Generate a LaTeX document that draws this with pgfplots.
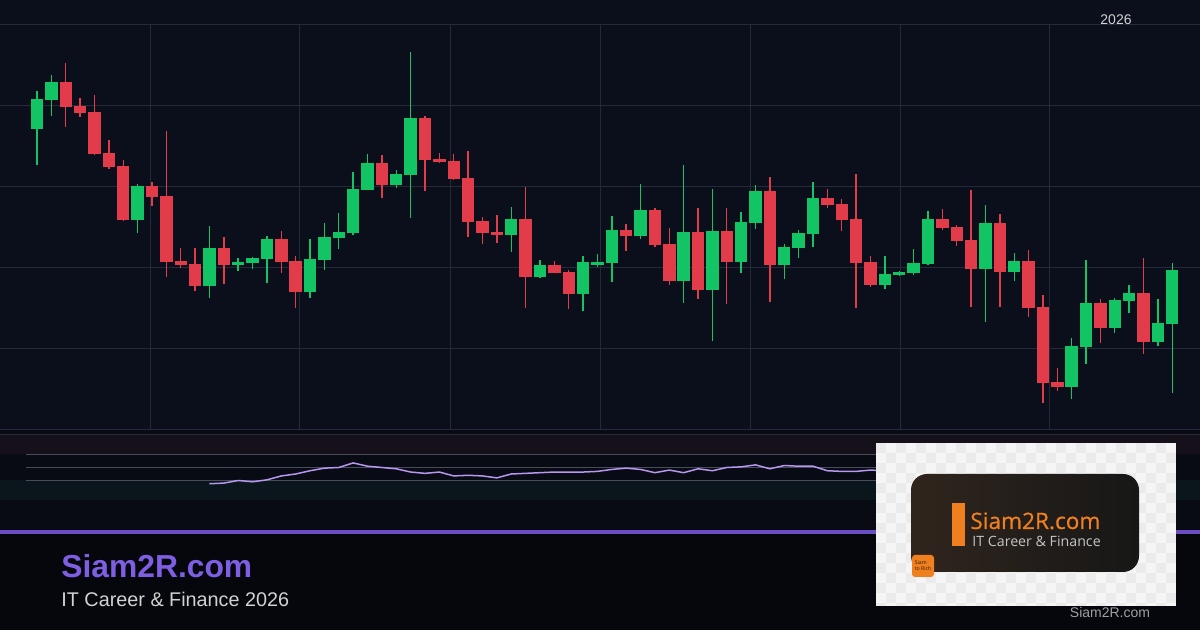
\documentclass[border=0pt]{standalone}
\usepackage{pgfplots}
\pgfplotsset{compat=1.18}
\usepackage{pgfplotstable}
\usepackage{fontspec}
\setmainfont{Liberation Sans}
\newfontfamily\osb{Open Sans}[FakeBold=0.6]
\newfontfamily\osr{Open Sans}
\definecolor{bgtop}{HTML}{0B0F1B}
\definecolor{bgmid}{HTML}{080B14}
\definecolor{bgbot}{HTML}{05070D}
\definecolor{gridc}{HTML}{252A39}
\definecolor{cgreen}{HTML}{12C464}
\definecolor{cred}{HTML}{E23B4A}
\definecolor{rsiline}{HTML}{B696EE}
\definecolor{rsigrid}{HTML}{474C58}
\definecolor{obband}{HTML}{15101A}
\definecolor{osband}{HTML}{0A161C}
\definecolor{purp}{HTML}{6B4EC4}
\definecolor{purptxt}{HTML}{7E5FE4}
\definecolor{subgray}{HTML}{D2D2D2}
\definecolor{orng}{HTML}{F0801F}
\definecolor{logogray}{HTML}{C4C4C4}
\definecolor{checkA}{HTML}{F5F5F5}
\definecolor{checkB}{HTML}{EBEBEB}
\definecolor{brownL}{HTML}{30251D}
\definecolor{darkR}{HTML}{171717}
\definecolor{graytxt}{HTML}{A0A0A0}

\pgfplotstableread{
i o h l c
1 117.20 121.85 112.72 120.83
2 120.74 123.83 118.77 122.96
8 105.93 110.37 104.32 110.12
13 97.78 105.19 96.30 102.47
15 100.37 101.23 99.63 100.74
16 100.62 101.36 99.88 101.23
17 101.11 103.95 98.15 103.58
20 97.04 103.58 96.30 101.11
21 100.99 105.56 99.75 103.83
22 103.70 106.79 102.35 104.44
23 104.32 111.85 104.07 109.75
24 109.63 114.07 109.57 112.96
26 110.25 112.10 109.88 111.60
27 111.48 126.67 106.17 118.52
34 104.07 107.53 101.98 106.05
36 98.89 100.99 98.77 100.37
39 96.79 101.48 94.69 100.74
40 100.37 101.73 100.12 100.74
41 100.62 106.42 98.27 104.69
43 103.95 110.37 103.58 107.16
46 98.40 112.72 95.68 104.44
48 97.28 109.75 90.99 104.57
50 100.74 106.91 99.38 105.68
51 105.56 110.25 104.81 109.51
53 100.37 102.96 98.64 102.59
54 102.47 104.69 101.23 104.32
55 104.20 110.62 102.59 108.64
60 97.90 101.48 97.41 99.26
61 99.14 99.57 99.07 99.51
62 99.38 102.35 99.14 100.62
63 100.49 107.04 100.37 106.05
67 99.88 107.78 93.33 105.56
69 99.51 101.85 98.40 100.86
73 85.31 91.36 83.83 90.37
74 90.25 100.99 88.15 95.68
76 92.59 96.30 91.98 96.05
77 95.93 97.90 94.44 96.91
79 90.86 96.17 90.37 93.21
80 93.09 100.62 84.57 99.75
}\greentab

\pgfplotstableread{
i o h l c
3 122.96 125.31 117.41 119.91
4 120.00 120.99 118.64 119.17
5 119.26 121.36 113.95 114.07
6 114.20 115.80 112.22 112.47
7 112.59 113.33 105.85 105.93
9 110.12 110.62 107.65 108.77
10 108.89 116.91 98.89 100.74
11 100.86 102.47 100.00 100.37
12 100.49 102.47 97.16 97.78
14 102.47 103.83 98.02 100.37
18 103.58 104.57 99.38 100.74
19 100.86 101.48 95.06 97.04
25 112.96 113.95 108.64 110.25
28 118.52 118.77 109.51 113.33
29 113.46 114.20 112.96 113.09
30 113.21 114.07 110.86 110.99
31 111.11 114.44 103.83 105.68
32 105.80 106.30 102.96 104.32
33 104.44 106.54 103.09 104.07
35 106.05 110.00 95.06 98.89
37 100.37 100.86 99.32 99.38
38 99.51 99.75 94.94 96.79
42 104.69 105.43 102.10 103.95
44 107.16 107.41 102.59 102.84
45 102.96 104.94 97.90 98.40
47 104.44 107.41 96.17 97.28
49 104.57 107.41 95.56 100.74
52 109.51 111.23 95.80 100.37
56 108.64 109.75 107.41 107.78
57 107.90 108.52 104.57 105.93
58 106.05 111.60 95.06 100.62
59 100.74 101.48 97.65 97.90
64 106.05 107.28 104.69 104.94
65 105.06 105.31 102.72 103.33
66 103.46 109.63 95.19 99.88
68 105.56 106.67 95.19 99.51
70 100.86 102.22 93.95 95.06
71 95.19 96.67 83.33 85.80
72 85.93 87.65 84.81 85.31
75 95.68 96.17 90.74 92.59
78 96.91 101.23 89.38 90.86
}\redtab

\pgfplotstableread{
i r
13 25
14 26
15 30
16 28
17 31
18 37
19 40
20 45
21 49
22 50
23 57
24 52
25 50
26 48
27 43
28 41
29 43
30 37
31 38
32 37
33 34
34 40
35 41
36 42
37 43
38 43
39 43
40 44
41 47
42 49
43 47
44 42
45 46
46 42
47 48
48 45
49 50
50 51
51 54
52 48
53 53
54 52
55 52
56 45
57 44
58 44
59 46
60 45
}\rsitab

\begin{document}
\begin{tikzpicture}
% backgrounds
\fill[bgbot] (0,0) rectangle (600pt,315pt);
\fill[bgmid] (0,50pt) rectangle (600pt,100pt);
\fill[bgtop] (0,100pt) rectangle (600pt,315pt);

\begin{axis}[at={(0pt,100pt)}, anchor=south west, scale only axis,
  width=600pt, height=202.5pt,
  xmin=-1.575, xmax=81.93, ymin=80, ymax=130,
  xtick={8.864,19.30,29.74,40.18,50.62,61.06,71.49},
  ytick={80,90,100,110,120,130},
  xticklabels={}, yticklabels={},
  axis line style={draw=none}, tick style={draw=none},
  grid=major, grid style={gridc, line width=0.5pt},
  clip=false]
% wicks
\addplot[draw=none, error bars/.cd, y dir=plus, y explicit, error mark=none,
   error bar style={draw=cgreen, line width=0.7pt}]
   table[x=i, y=l, y error expr=\thisrow{h}-\thisrow{l}] {\greentab};
\addplot[draw=none, error bars/.cd, y dir=plus, y explicit, error mark=none,
   error bar style={draw=cred, line width=0.7pt}]
   table[x=i, y=l, y error expr=\thisrow{h}-\thisrow{l}] {\redtab};
% bodies
\addplot[draw=none, error bars/.cd, y dir=plus, y explicit, error mark=none,
   error bar style={draw=cgreen, line width=6.2pt}]
   table[x=i, y=o, y error expr=\thisrow{c}-\thisrow{o}] {\greentab};
\addplot[draw=none, error bars/.cd, y dir=plus, y explicit, error mark=none,
   error bar style={draw=cred, line width=6.2pt}]
   table[x=i, y=c, y error expr=\thisrow{o}-\thisrow{c}] {\redtab};
\end{axis}

% RSI panel
\begin{axis}[at={(0pt,65pt)}, anchor=south west, scale only axis,
  width=600pt, height=32.5pt,
  xmin=-1.575, xmax=81.93, ymin=0, ymax=100, hide axis, clip=false]
\fill[obband] (rel axis cs:0,0.7) rectangle (rel axis cs:1,1);
\fill[osband] (rel axis cs:0,0) rectangle (rel axis cs:1,0.3);
\draw[gridc, line width=0.5pt] (rel axis cs:0,1) -- (rel axis cs:1,1);
\draw[rsigrid, line width=0.55pt] (axis cs:0.234,70) -- (axis cs:75.39,70);
\draw[rsigrid, line width=0.55pt] (axis cs:0.234,50) -- (axis cs:75.39,50);
\draw[rsigrid, line width=0.55pt] (axis cs:0.234,30) -- (axis cs:75.39,30);
\addplot[rsiline, line width=0.75pt, mark=none] table[x=i, y=r] {\rsitab};
\end{axis}

% purple separator
\fill[purp] (0,48pt) rectangle (600pt,50pt);

% texts
\node[anchor=base, inner sep=0, text=subgray, font=\fontsize{7}{8}\selectfont] at (558pt,302.8pt) {2026};
\node[anchor=base west, inner sep=0, text=purptxt, font=\bfseries\fontsize{15.9}{18}\selectfont] at (30.5pt,26pt) {Siam2R.com};
\node[anchor=base west, inner sep=0, text=subgray, font=\fontsize{9.9}{12}\selectfont] at (30.5pt,11.7pt) {IT Career \& Finance 2026};
\node[anchor=base, inner sep=0, text=graytxt, font=\fontsize{7}{8}\selectfont] at (555pt,6pt) {Siam2R.com};

% logo box
\begin{scope}
\clip (438pt,12pt) rectangle (588pt,93.5pt);
\fill[checkA] (438pt,12pt) rectangle (588pt,93.5pt);
\foreach \cx in {0,...,29}{\foreach \cy in {0,...,16}{
  \pgfmathtruncatemacro{\pp}{mod(\cx+\cy,2)}
  \ifnum\pp=0 \fill[checkB] ({438pt+\cx*5pt},{93.5pt-\cy*5pt-5pt}) rectangle ++(5pt,5pt);\fi
}}
\end{scope}
\shade[rounded corners=8pt, left color=brownL, right color=darkR] (455.5pt,29pt) rectangle (569.5pt,78pt);
\fill[orng] (476pt,42pt) rectangle (482.5pt,63.5pt);
\node[anchor=base west, inner sep=0, text=orng, font=\osb\fontsize{11.3}{14}\selectfont] at (485pt,50.5pt) {Siam2R.com};
\node[anchor=base west, inner sep=0, text=logogray, font=\osr\fontsize{7.1}{9}\selectfont] at (486pt,41.5pt) {IT Career \& Finance};
\fill[orng, rounded corners=1.5pt] (456pt,26.5pt) rectangle (467pt,37.5pt);
\node[anchor=base west, inner sep=0, text=black!80!orng, font=\osr\fontsize{2.6}{3}\selectfont] at (457.2pt,32.8pt) {Siam};
\node[anchor=base west, inner sep=0, text=black!80!orng, font=\osr\fontsize{2.6}{3}\selectfont] at (457.2pt,29.6pt) {to Rich};

\pgfresetboundingbox
\useasboundingbox (0,0) rectangle (600pt,315pt);
\end{tikzpicture}
\end{document}
